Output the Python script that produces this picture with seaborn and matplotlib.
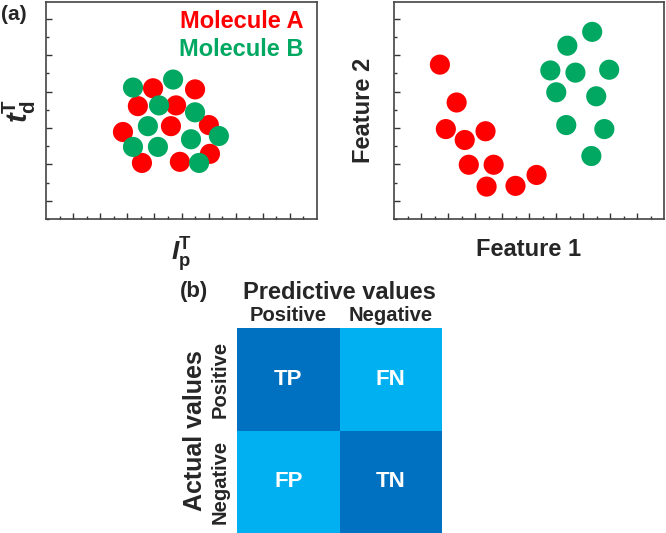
import numpy as np
import pandas as pd
import seaborn as sns
import matplotlib.pyplot as plt
from matplotlib.colors import ListedColormap

# Panel (a), left: overlapping molecules in (I_p, t_d) space
left_a_x = [3.95, 5.50, 3.39, 4.80, 2.84, 4.61, 6.01, 3.54, 4.94, 6.05]
left_a_y = [3.09, 3.06, 2.60, 2.62, 1.89, 2.05, 2.08, 1.04, 1.07, 1.29]
left_b_x = [3.21, 4.69, 4.17, 5.50, 3.76, 5.35, 6.38, 3.21, 4.13, 5.65]
left_b_y = [3.11, 3.33, 2.62, 2.43, 2.05, 1.69, 1.78, 1.48, 1.48, 1.04]

# Panel (a), right: separable in feature space
right_a_x = [1.70, 2.32, 1.92, 2.62, 3.39, 2.77, 3.69, 3.43, 4.50, 5.28]
right_a_y = [3.74, 2.70, 1.97, 1.67, 1.91, 0.99, 0.99, 0.39, 0.41, 0.71]
right_b_x = [7.34, 6.42, 5.79, 6.72, 7.97, 6.01, 7.49, 6.38, 7.79, 7.31]
right_b_y = [4.64, 4.26, 3.58, 3.52, 3.60, 2.98, 2.87, 2.08, 1.97, 1.23]

# Panel (b): confusion matrix
cm_cols = ["Positive", "Negative"]
cm_rows = ["Positive", "Negative"]
cm_labels = [["TP", "FN"], ["FP", "TN"]]
cm_level = [[1, 0], [0, 1]]

red = "#FF0000"
green = "#00A862"
dark_blue = "#0070C0"
light_blue = "#00B0F0"

sns.set_style("white")
plt.rcParams["font.family"] = ["Liberation Sans", "DejaVu Sans"]
plt.rcParams["font.weight"] = "bold"
plt.rcParams["mathtext.fontset"] = "custom"
plt.rcParams["mathtext.rm"] = "Liberation Sans:bold"
plt.rcParams["mathtext.bf"] = "Liberation Sans:bold"
plt.rcParams["mathtext.it"] = "Liberation Sans:italic:bold"
plt.rcParams["mathtext.bfit"] = "Liberation Sans:italic:bold"

fig = plt.figure(figsize=(6.66, 5.33), dpi=100)
W, H = 666, 533


def px_axes(x0, y0, x1, y1):
    return fig.add_axes([x0 / W, 1 - y1 / H, (x1 - x0) / W, (y1 - y0) / H])


def molecule_frame(xa, ya, xb, yb):
    return pd.DataFrame({
        "x": xa + xb,
        "y": ya + yb,
        "mol": ["A"] * len(xa) + ["B"] * len(xb),
    })


def style_scatter(ax):
    ax.set_xlim(0, 10)
    ax.set_ylim(-0.46, 5.46)
    ax.set_xticks(np.arange(1, 10))
    ax.set_xticks(np.arange(0.5, 10, 1), minor=True)
    ax.set_yticks(np.arange(0, 6))
    ax.set_yticks(np.arange(-0.5, 5.5, 1), minor=True)
    ax.set_xticklabels([])
    ax.set_yticklabels([])
    ax.tick_params(which="major", direction="in", length=4, width=1,
                   color="#333333", left=True, bottom=True)
    ax.tick_params(which="minor", direction="in", length=2, width=1,
                   color="#333333", left=True, bottom=True)
    for s in ax.spines.values():
        s.set_color("#444444")
        s.set_linewidth(1.2)


palette = {"A": red, "B": green}

ax1 = px_axes(46, 2, 317, 219)
sns.scatterplot(data=molecule_frame(left_a_x, left_a_y, left_b_x, left_b_y),
                x="x", y="y", hue="mol", palette=palette, s=210,
                linewidth=0, ax=ax1, legend=False)
style_scatter(ax1)
ax1.set_xlabel(r"$\mathbfit{I}_{\mathbf{p}}^{\mathbf{T}}$", fontsize=19, labelpad=8)
ax1.set_ylabel(r"$\mathbfit{t}_{\mathbf{d}}^{\mathbf{T}}$", fontsize=21, labelpad=2)
ax1.text(0.952, 0.908, "Molecule A", color=red, fontsize=17, fontweight="bold",
         ha="right", va="center", transform=ax1.transAxes)
ax1.text(0.952, 0.779, "Molecule B", color=green, fontsize=17, fontweight="bold",
         ha="right", va="center", transform=ax1.transAxes)

ax2 = px_axes(394, 2, 664, 219)
sns.scatterplot(data=molecule_frame(right_a_x, right_a_y, right_b_x, right_b_y),
                x="x", y="y", hue="mol", palette=palette, s=210,
                linewidth=0, ax=ax2, legend=False)
style_scatter(ax2)
ax2.set_xlabel("Feature 1", fontsize=17, fontweight="bold", labelpad=10)
ax2.set_ylabel("Feature 2", fontsize=17, fontweight="bold", labelpad=10)

ax3 = px_axes(237, 328, 442, 533)
sns.heatmap(np.array(cm_level), cmap=ListedColormap([light_blue, dark_blue]),
            annot=np.array(cm_labels), fmt="", cbar=False, square=False,
            xticklabels=cm_cols, yticklabels=cm_rows, ax=ax3,
            annot_kws={"color": "white", "fontsize": 16, "fontweight": "bold"})
ax3.xaxis.tick_top()
ax3.xaxis.set_label_position("top")
ax3.tick_params(axis="x", length=0, labelsize=14.5, pad=2)
ax3.tick_params(axis="y", length=0, labelsize=14.5, pad=5)
ax3.set_yticklabels(cm_rows, rotation=90, va="center")
ax3.set_xlabel("Predictive values", fontsize=17, fontweight="bold", labelpad=5)
ax3.set_ylabel("Actual values", fontsize=18, fontweight="bold", labelpad=3)

fig.text(1 / W, 1 - 15 / H, "(a)", fontsize=15, fontweight="bold", va="center")
fig.text(180 / W, 1 - 292 / H, "(b)", fontsize=16, fontweight="bold", va="center")

fig.savefig("out.png", dpi=100)
